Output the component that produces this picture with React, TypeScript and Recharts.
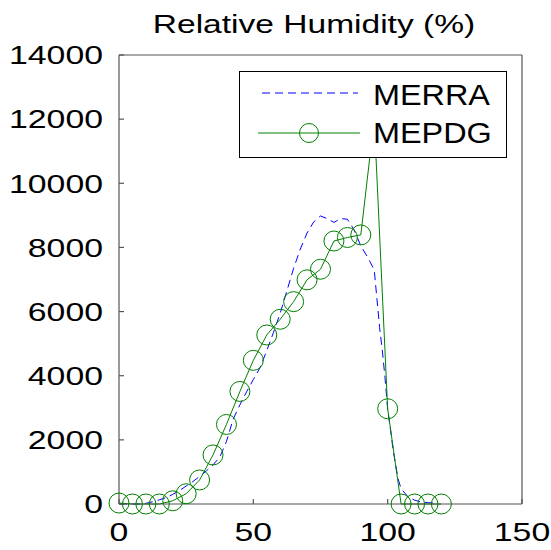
import React from 'react';
import { LineChart, Line, XAxis, YAxis, Legend } from 'recharts';

const chartTitle = 'Relative Humidity (%)';
const seriesNames = ['MERRA', 'MEPDG'];

const merraX = [0, 2.5, 5, 7.5, 10, 12.5, 15, 17.5, 20, 22.5, 25, 27.5, 30, 32.5, 35, 37.5, 40, 42.5, 45, 47.5, 50, 52.5, 55, 57.5, 60, 62.5, 65, 67.5, 70, 72.5, 75, 77.5, 80, 82.5, 85, 87.5, 90, 92.5, 95, 96, 97, 98, 99, 100, 101, 102, 103, 104, 105, 107.5, 110, 112.5, 115, 117.5];
const merraY = [0, 0, 0, 0, 20, 70, 130, 200, 300, 420, 560, 700, 860, 1030, 1220, 1460, 1950, 2650, 3090, 3500, 3880, 4250, 4780, 5350, 5950, 6650, 7350, 7950, 8450, 8800, 8980, 8900, 8780, 8900, 8880, 8550, 8050, 7700, 7300, 6400, 5500, 4800, 3950, 2950, 2350, 1700, 1200, 750, 480, 230, 120, 60, 40, 30];

const mepdgX = [0, 5, 10, 15, 20, 25, 30, 35, 40, 45, 50, 55, 60, 65, 70, 75, 80, 85, 90, 95, 100, 105, 110, 115, 120];
const mepdgY = [30, 0, 0, 0, 100, 320, 750, 1530, 2480, 3510, 4480, 5270, 5760, 6310, 6990, 7320, 8200, 8310, 8390, 12000, 2970, 0, 0, 0, 0];

const xTicks = [0, 50, 100, 150];
const yTicks = [0, 2000, 4000, 6000, 8000, 10000, 12000, 14000];
const xDomain = [0, 150];
const yDomain = [0, 14000];

const merraData = merraX.map((x, i) => ({ x, y: merraY[i] }));
const mepdgData = mepdgX.map((x, i) => ({ x, y: mepdgY[i] }));

const FONT = '"Liberation Sans", Arial, Helvetica, sans-serif';
const AXIS_COLOR = '#555';
const BLUE = '#0000ff';
const GREEN = '#008000';

const stretch = (x: number, y: number, s: number) =>
  `translate(${x} ${y}) scale(${s} 1) translate(${-x} ${-y})`;

const YTick = (p: any) => {
  const { x, y, payload } = p;
  return (
    <text x={x} y={y} dy="0.36em" textAnchor="end" fontSize={26} fontFamily={FONT} fill="#000"
      transform={stretch(x, y, 1.3)}>
      {payload.value}
    </text>
  );
};

const XTick = (p: any) => {
  const { x, y, payload } = p;
  return (
    <text x={x} y={y} dy="0.716em" textAnchor="middle" fontSize={26} fontFamily={FONT} fill="#000"
      transform={stretch(x, y, 1.3)}>
      {payload.value}
    </text>
  );
};

const NoTick = () => <g />;

const LegendBox = () => (
  <svg width={268} height={87} style={{ display: 'block' }}>
    <rect x={0.5} y={0.5} width={267} height={86} fill="#fff" stroke="#000" strokeWidth={1} />
    <line x1={23} x2={119} y1={22} y2={22} stroke={BLUE} strokeWidth={1} strokeDasharray="8 5" />
    <text x={134} y={34} fontSize={30} fontFamily={FONT} fill="#000" transform={stretch(134, 34, 1.08)}>
      {seriesNames[0]}
    </text>
    <line x1={19} x2={121} y1={62} y2={62} stroke={GREEN} strokeWidth={1} />
    <circle cx={70} cy={62} r={9.5} fill="none" stroke={GREEN} strokeWidth={1} />
    <text x={134} y={72} fontSize={30} fontFamily={FONT} fill="#000" transform={stretch(134, 72, 1.08)}>
      {seriesNames[1]}
    </text>
  </svg>
);

export default function App() {
  return (
    <div style={{ position: 'absolute', left: 0, top: 0, width: 551, height: 550, background: '#fff', fontFamily: FONT }}>
      <svg width={551} height={50} style={{ position: 'absolute', left: 0, top: 0 }}>
        <text x={314} y={33} textAnchor="middle" fontSize={26} fontFamily={FONT} fill="#000"
          transform={stretch(314, 33, 1.29)}>
          {chartTitle}
        </text>
      </svg>
      <div style={{ position: 'absolute', left: 0, top: 0 }}>
        <LineChart width={551} height={550} margin={{ top: 35, right: 9, bottom: 6, left: 19 }}>
          <XAxis xAxisId={0} dataKey="x" type="number" domain={xDomain} ticks={xTicks}
            height={40} stroke={AXIS_COLOR} strokeWidth={1.2} tickSize={-5} tickMargin={23}
            tick={<XTick />} interval={0} allowDecimals={false} />
          <XAxis xAxisId="t" orientation="top" dataKey="x" type="number" domain={xDomain} ticks={xTicks}
            height={20} stroke={AXIS_COLOR} strokeWidth={1.2} tickSize={-5} tick={<NoTick />} interval={0} />
          <YAxis yAxisId={0} type="number" domain={yDomain} ticks={yTicks} width={100}
            stroke={AXIS_COLOR} strokeWidth={1.2} tickSize={-5} tickMargin={21} tick={<YTick />} interval={0} />
          <YAxis yAxisId="r" orientation="right" type="number" domain={yDomain} ticks={yTicks} width={20}
            stroke={AXIS_COLOR} strokeWidth={1.2} tickSize={-5} tick={<NoTick />} interval={0} />
          <Line data={merraData} dataKey="y" name={seriesNames[0]} xAxisId={0} yAxisId={0}
            type="linear" stroke={BLUE} strokeWidth={1} strokeDasharray="8 5" dot={false}
            isAnimationActive={false} />
          <Line data={mepdgData} dataKey="y" name={seriesNames[1]} xAxisId={0} yAxisId={0}
            type="linear" stroke={GREEN} strokeWidth={1}
            dot={{ r: 10, fill: 'none', stroke: GREEN, strokeWidth: 1 }} activeDot={false}
            isAnimationActive={false} />
          <Legend layout="horizontal" verticalAlign="middle" align="center"
            wrapperStyle={{ left: 239, top: 71, width: 268, height: 87, margin: 0, padding: 0 }}
            content={() => <LegendBox />} />
        </LineChart>
      </div>
    </div>
  );
}
